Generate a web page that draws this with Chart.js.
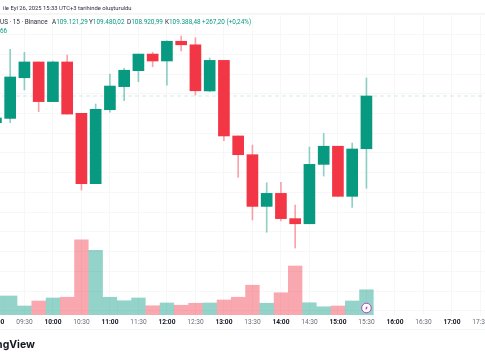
<!DOCTYPE html>
<html>
<head>
<meta charset="utf-8">
<title>BTC/USD 15</title>
<script src="https://cdn.jsdelivr.net/npm/chart.js@4"></script>
<style>
html, body { margin: 0; padding: 0; width: 485px; height: 360px; overflow: hidden; background: #fff; }
#myChart { position: absolute; left: -40px; top: 0; filter: blur(0.35px); }
.txt { position: absolute; white-space: nowrap; font-family: Roboto, sans-serif; font-size: 6.4px; line-height: 10px; color: #2a2e39; }
.val { color: #089981; }
.logo { position: absolute; left: -60px; width: 95px; top: 338px; text-align: right; font-family: Inter, sans-serif; font-weight: 700; font-size: 10.5px; line-height: 14px; color: #131722; }
</style>
</head>
<body>
<canvas id="myChart" width="565" height="360"></canvas>
<div class="txt" style="left:3px;top:3px;font-size:5.85px">ile Eyl 26, 2025 15:33 UTC+3 tarihinde oluşturuldu</div>
<div class="txt" style="left:0;top:17px">US · 15 · Binance</div>
<div class="txt" style="left:52px;top:17px">A<span class="val">109.121,29</span></div>
<div class="txt" style="left:89px;top:17px">Y<span class="val">109.480,02</span></div>
<div class="txt" style="left:127px;top:17px">D<span class="val">108.920,99</span></div>
<div class="txt" style="left:165px;top:17px">K<span class="val">109.388,48</span></div>
<div class="txt val" style="left:202px;top:17px">+267,20 (+0,24%)</div>
<div class="txt val" style="left:0;top:26px">66</div>
<div class="logo">TradingView</div>
<script>
const times = ['09:00','09:15','09:30','09:45','10:00','10:15','10:30','10:45','11:00','11:15','11:30','11:45','12:00','12:15','12:30','12:45','13:00','13:15','13:30','13:45','14:00','14:15','14:30','14:45','15:00','15:15','15:30'];
const opens = [109253,109275,109481,109561,109360,109561,109301,108944,109319,109436,109517,109601,109566,109666,109648,109414,109569,109186,109091,108829,108895,108767,108741,109042,109134,108880,109121.29];
const closes = [109277,109485,109561,109360,109561,109297,108944,109321,109439,109519,109601,109566,109666,109648,109415,109569,109186,109091,108829,108895,108767,108741,109042,109134,108880,109120,109388.48];
const highs = [109277,109625,109610,109561,109566,109596,109301,109348,109500,109529,109601,109610,109668,109693,109684,109581,109569,109186,109140,108949,108951,108836,109130,109199,109134,109150,109480.02];
const lows = [109253,109253,109419,109309,109360,109297,108912,108944,109306,109365,109461,109537,109444,109616,109393,109410,109162,108976,108760,108698,108755,108618,108741,108983,108880,108824,108920.99];
const volumes = [76,76,36,56,68,71,301,259,71,57,68,37,48,39,47,48,60,71,119,47,89,196,49,33,36,56,101];
const tickLabels = ['09:00','09:30','10:00','10:30','11:00','11:30','12:00','12:30','13:00','13:30','14:00','14:30','15:00','15:30','16:00','16:30','17:00','17:30'];
const priceTicks = [108300,108400,108500,108600,108700,108800,108900,109000,109100,109200,109300,109400,109500,109600,109700,109800];

const GREEN = '#089981';
const RED = '#f23645';

function aDakika(hora) {
    const p = hora.split(':');
    return parseInt(p[0]) * 60 + parseInt(p[1]);
}
function aHora(min) {
    const h = Math.floor(min / 60);
    const m = min % 60;
    return (h < 10 ? '0' : '') + h + ':' + (m < 10 ? '0' : '') + m;
}
function enPunto(c) {
    return c.tick && c.tick.value % 60 === 0;
}

const minutos = times.map(aDakika);
const subio = closes.map((c, i) => c >= opens[i]);
const xMin = 502.2, xMax = 1096.9;
const lastClose = closes[closes.length - 1];

// frame lines and the little event badge on the last volume bar
const extras = {
    id: 'extras',
    afterDraw(chart) {
        const c = chart.ctx, a = chart.chartArea;
        c.save();
        c.strokeStyle = '#f4f5f6';
        c.lineWidth = 1;
        c.beginPath();
        c.moveTo(a.left, 329.5); c.lineTo(a.right, 329.5);
        c.moveTo(a.left, 13.5); c.lineTo(a.right, 13.5);
        c.stroke();
        const x = chart.scales.x.getPixelForValue(minutos[minutos.length - 1]);
        const y = 308;
        c.beginPath();
        c.arc(x, y, 4.8, 0, Math.PI * 2);
        c.fillStyle = '#fff';
        c.fill();
        c.strokeStyle = '#ab47bc';
        c.lineWidth = 1;
        c.stroke();
        c.beginPath();
        c.moveTo(x + 1.3, y - 2.6); c.lineTo(x - 1.4, y + 0.5); c.lineTo(x - 0.1, y + 0.3);
        c.lineTo(x - 1.1, y + 2.6); c.lineTo(x + 1.4, y - 0.6); c.lineTo(x + 0.1, y - 0.4);
        c.closePath();
        c.fillStyle = '#8e24aa';
        c.fill();
        c.restore();
    }
};

const ctx = document.getElementById('myChart').getContext('2d');
new Chart(ctx, {
    type: 'bar',
    data: {
        datasets: [
            {
                type: 'line',
                data: [{ x: xMin, y: lastClose }, { x: xMax, y: lastClose }],
                borderColor: 'rgba(8,153,129,0.2)',
                borderWidth: 1,
                borderDash: [4, 3],
                pointRadius: 0,
                yAxisID: 'y',
                order: 4
            },
            {
                data: minutos.map((m, i) => ({ x: m, y: volumes[i] })),
                backgroundColor: subio.map(s => s ? 'rgba(8,153,129,0.43)' : 'rgba(242,54,69,0.43)'),
                barThickness: 13.7,
                grouped: false,
                yAxisID: 'v',
                order: 3
            },
            {
                data: minutos.map((m, i) => ({ x: m, y: [lows[i], highs[i]] })),
                backgroundColor: subio.map(s => s ? 'rgba(8,153,129,0.45)' : 'rgba(242,54,69,0.45)'),
                barThickness: 1,
                grouped: false,
                yAxisID: 'y',
                order: 2
            },
            {
                data: minutos.map((m, i) => ({ x: m, y: [opens[i], closes[i]] })),
                backgroundColor: subio.map(s => s ? GREEN : RED),
                barThickness: 11,
                grouped: false,
                yAxisID: 'y',
                order: 1
            }
        ]
    },
    options: {
        responsive: false,
        animation: false,
        layout: { padding: { top: 14, left: 0, right: 0, bottom: 0 } },
        plugins: { legend: { display: false }, tooltip: { enabled: false } },
        scales: {
            x: {
                type: 'linear',
                min: xMin,
                max: xMax,
                offset: false,
                afterBuildTicks: scale => { scale.ticks = tickLabels.map(t => ({ value: aDakika(t) })); },
                afterFit: scale => { scale.height = 45; },
                grid: { offset: false, color: '#f7f7f8', drawTicks: false },
                border: { display: false },
                ticks: {
                    autoSkip: false,
                    maxRotation: 0,
                    padding: 3,
                    callback: value => aHora(value),
                    color: c => (enPunto(c) ? '#131722' : '#6a6d78'),
                    font: c => ({ family: 'Roboto, sans-serif', size: 6.6, weight: enPunto(c) ? 'bold' : 'normal' })
                }
            },
            y: {
                display: true,
                min: 108278.6,
                max: 109804.1,
                afterBuildTicks: scale => { scale.ticks = priceTicks.map(p => ({ value: p })); },
                afterFit: scale => { scale.width = 0; },
                grid: { color: '#f7f7f8', drawTicks: false },
                border: { display: false },
                ticks: { display: false }
            },
            v: {
                display: false,
                min: 0,
                max: 1204
            }
        }
    },
    plugins: [extras]
});
</script>
</body>
</html>
